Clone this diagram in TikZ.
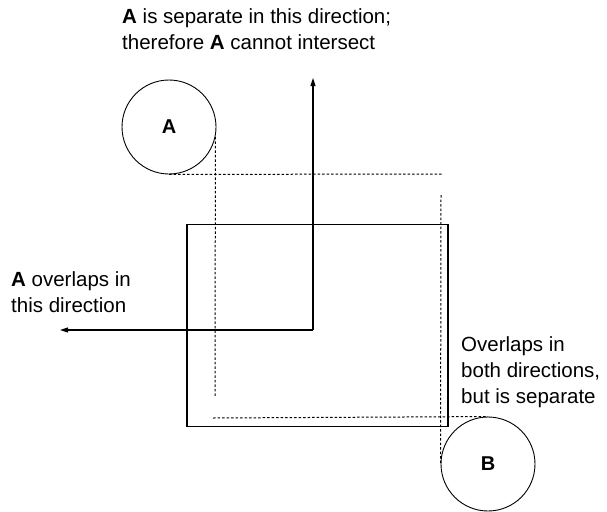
\documentclass[tikz,border=0pt]{standalone}
\usepackage{fontspec}
\setmainfont{Liberation Sans}
\usetikzlibrary{positioning,arrows.meta}

\begin{document}
\begin{tikzpicture}[
  x=1pt, y=-1pt,
  disc/.style={draw, circle, line width=0.9pt, minimum size=94pt, inner sep=0pt,
               font=\fontsize{20}{24}\selectfont\bfseries},
  frame/.style={draw, line width=1.4pt, minimum width=261pt, minimum height=202pt,
                inner sep=0pt},
  note/.style={align=left, inner sep=0pt, anchor=base west,
               font=\fontsize{20.5}{26}\selectfont},
  proj/.style={line width=1pt, dash pattern=on 2.5pt off 2pt},
  arr/.style={-{Triangle[length=8pt, width=5pt]}, line width=1.1pt}
]
\useasboundingbox (0,0) rectangle (607,511);

% Region box
\node[frame] (box) at (317.5,325.5) {};

% Objects
\node[disc] (A) at (169,127) {A};
\node[disc] (B) at (488,464) {B};

% Directions
\coordinate (bend) at (313,330);
\coordinate (uptip) at (313,78);
\coordinate (lefttip) at (60,330);
\draw[arr] (bend) -- (uptip);
\draw[arr] (bend) -- (lefttip);

% Projections of A
\coordinate (Aright) at (443,174);
\coordinate (Adown) at (215,396);
\draw[proj] (A.south) -- (Aright);
\draw[proj] (A.-12) -- (Adown);

% Projections of B
\coordinate (Btop) at (441,195);
\coordinate (Bleft) at (213,418);
\draw[proj] (Btop) -- (B.west);
\draw[proj] (Bleft) -- (B.north);

% Labels (base = last line)
\node[note] (sepA) at (122,50)
  {\textbf{A} is separate in this direction;\\therefore \textbf{A} cannot intersect};
\node[note] (ovA) at (11,312) {\textbf{A} overlaps in\\this direction};
\node[note] (ovB) at (461,403) {Overlaps in\\both directions,\\but is separate};

\end{tikzpicture}
\end{document}
